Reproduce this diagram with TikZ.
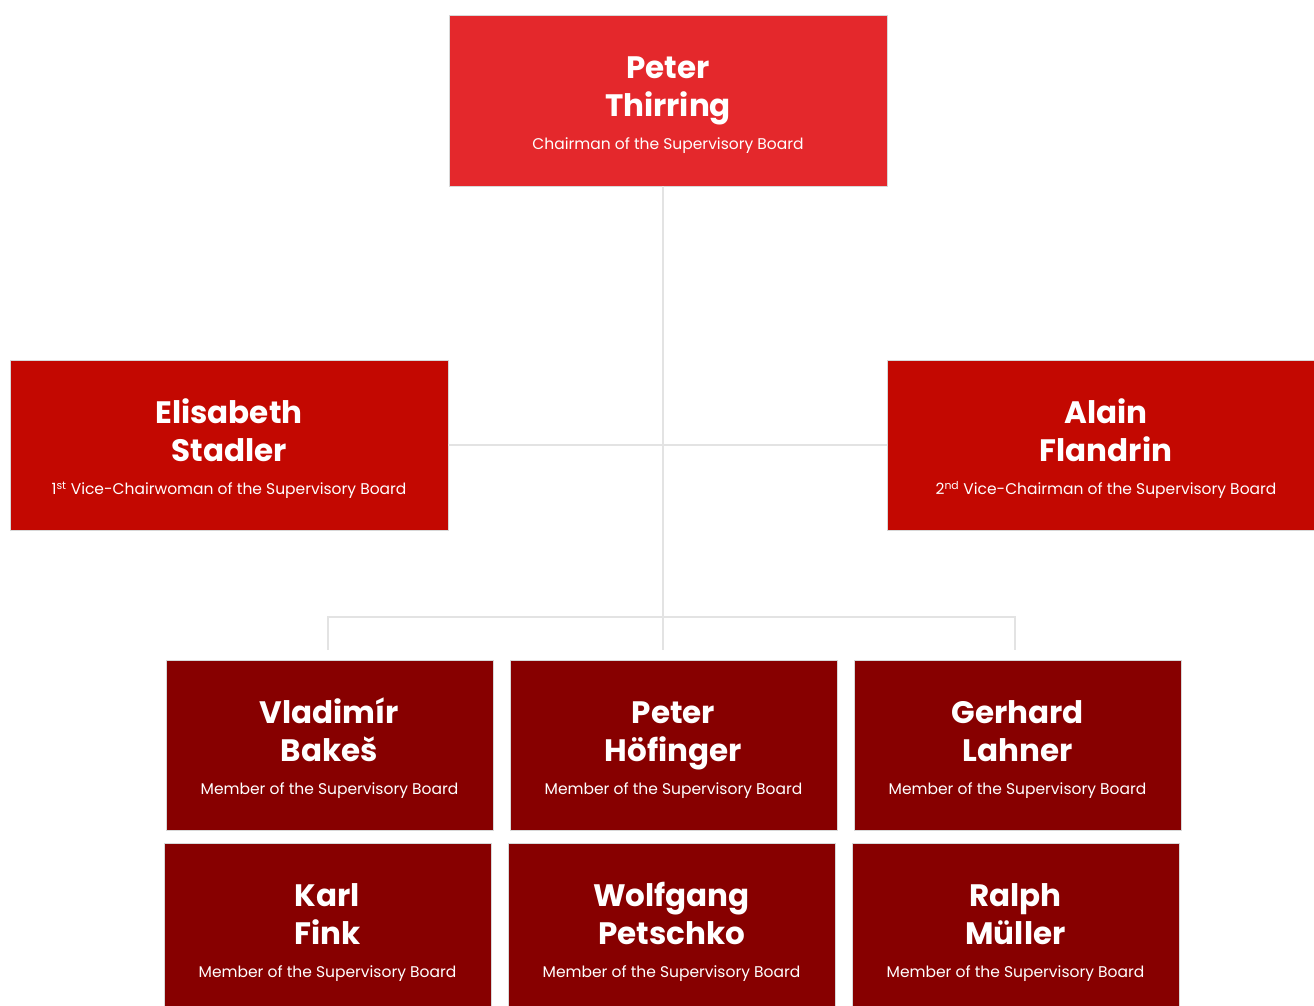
\documentclass[tikz,border=0pt]{standalone}
\usepackage{fontspec}
\setmainfont{Poppins}
\usetikzlibrary{positioning}

\definecolor{chairred}{HTML}{E4282C}
\definecolor{vicered}{HTML}{C30801}
\definecolor{memberred}{HTML}{870000}
\definecolor{boxedge}{HTML}{D8D8D8}
\definecolor{linkgray}{HTML}{E3E3E3}

\newcommand{\namefont}{\fontsize{31}{38}\selectfont\bfseries}
\newcommand{\rolefont}{\fontsize{15.5}{20}\selectfont\mdseries}
\newcommand{\toprule}{\rule{0pt}{32pt}}

\tikzset{
  board/.style={rectangle, draw=boxedge, line width=0.8pt, text=white,
    align=center, inner sep=0pt, font=\namefont},
  chairbox/.style={board, fill=chairred, minimum width=438pt, minimum height=171pt},
  vicebox/.style={board, fill=vicered, minimum width=438pt, minimum height=170pt},
  memberbox/.style={board, fill=memberred, minimum width=327pt, minimum height=170pt},
  link/.style={draw=linkgray, line width=1.2pt},
}

\begin{document}
\begin{tikzpicture}[x=1pt,y=-1pt]
                \useasboundingbox (0,0) rectangle (1314,1005);
                \clip (0,0) rectangle (1314,1005);

                % chairman
                \node[chairbox] (chair) at (668,100.5) {\toprule Peter\\Thirring\\[-5pt]\rolefont Chairman of the Supervisory Board};

                % vice chairs
                \node[vicebox] (vice1) at (229,445) {\toprule Elisabeth\\Stadler\\[-5pt]\rolefont 1\textsuperscript{st} Vice-Chairwoman of the Supervisory Board};
                \node[vicebox] (vice2) at (1106,445) {\toprule Alain\\Flandrin\\[-5pt]\rolefont 2\textsuperscript{nd} Vice-Chairman of the Supervisory Board};

                % members
                \node[memberbox] (bakes) at (329.5,745) {\toprule Vladimír\\Bakeš\\[-5pt]\rolefont Member of the Supervisory Board};
                \node[memberbox] (hoefinger) at (673.5,745) {\toprule Peter\\Höfinger\\[-5pt]\rolefont Member of the Supervisory Board};
                \node[memberbox] (lahner) at (1017.5,745) {\toprule Gerhard\\Lahner\\[-5pt]\rolefont Member of the Supervisory Board};
                \node[memberbox] (fink) at (327.5,928) {\toprule Karl\\Fink\\[-5pt]\rolefont Member of the Supervisory Board};
                \node[memberbox] (petschko) at (671.5,928) {\toprule Wolfgang\\Petschko\\[-5pt]\rolefont Member of the Supervisory Board};
                \node[memberbox] (mueller) at (1015.5,928) {\toprule Ralph\\Müller\\[-5pt]\rolefont Member of the Supervisory Board};

                \coordinate (busL) at (328,617);
                \coordinate (busR) at (1015,617);
                \coordinate (dropL) at (328,650);
                \coordinate (dropM) at (663,650);
                \coordinate (dropR) at (1015,650);

                \draw[link] (chair.south -| dropM) -- (dropM);
                \draw[link] (vice1.east) -- (vice2.west);
                \draw[link] (dropL) -- (busL) -- (busR) -- (dropR);
            \end{tikzpicture}
\end{document}
